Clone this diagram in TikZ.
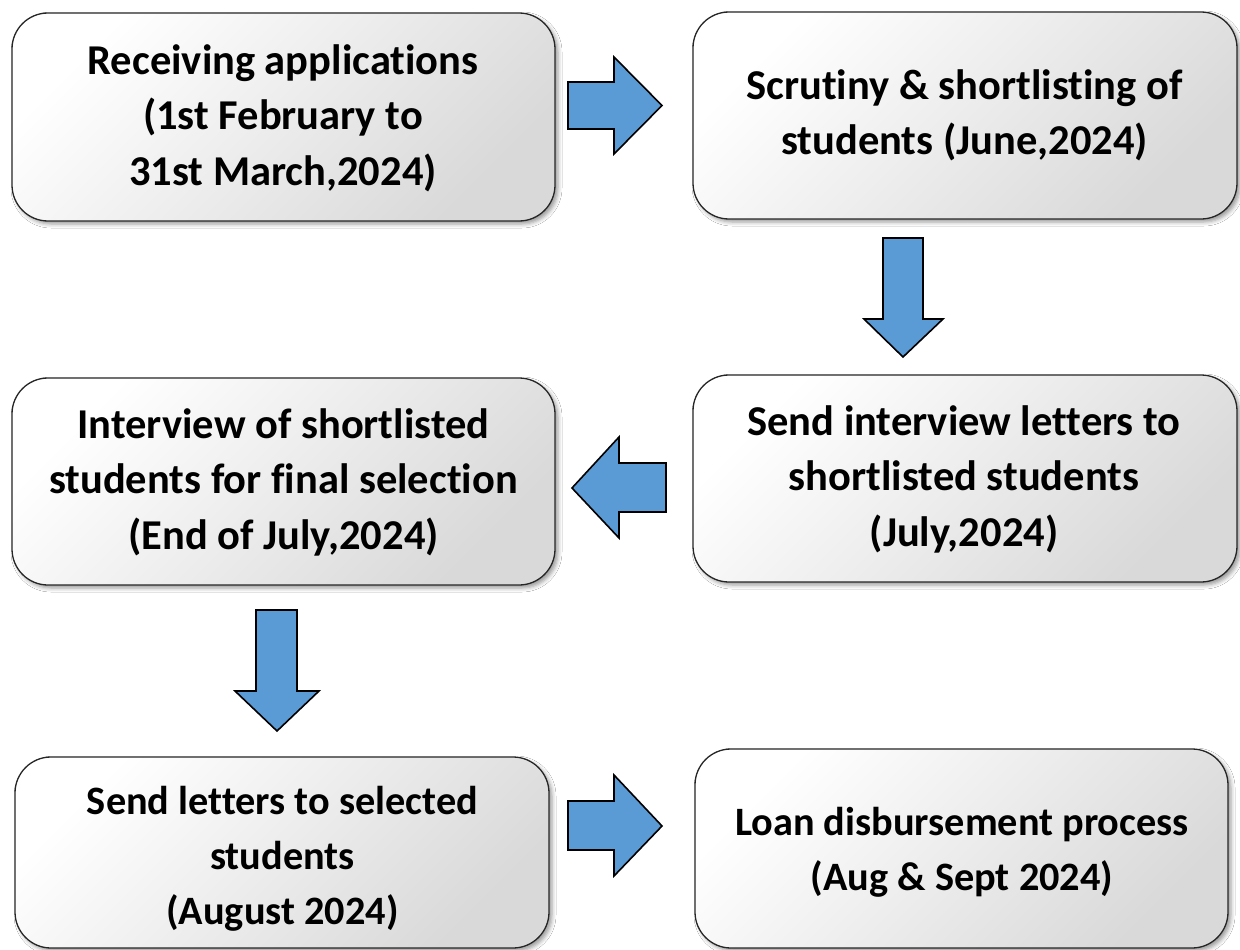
\documentclass[tikz,border=0pt]{standalone}
\usepackage{fontspec}
\setmainfont[Ligatures={NoCommon,NoContextual}]{Carlito}
\usetikzlibrary{shadows.blur}
\definecolor{arrowblue}{HTML}{5B9BD5}
\begin{document}
\begin{tikzpicture}[x=1pt,y=-1pt,
  box/.style={draw=black!85, line width=1.3pt, rounded corners=36pt,
    top color=white, bottom color=black!15, shading angle=45,
    blur shadow={shadow xshift=3pt, shadow yshift=-3pt, shadow blur radius=4pt, shadow opacity=40},
    inner sep=0pt},
  txt/.style={font=\bfseries\fontsize{42.5}{55.5}\selectfont, align=center, inner sep=0pt},
  smalltxt/.style={txt, font=\bfseries\fontsize{40.3}{55}\selectfont},
  barrow/.style={draw=black, line width=1.6pt, fill=arrowblue, line join=miter}]
\useasboundingbox (0,0) rectangle (1240,950);
\fill[white] (0,0) rectangle (1240,950);
% boxes
\node[box, minimum width=543pt, minimum height=208pt] (b1) at (283.5,117) {};
\node[box, minimum width=544pt, minimum height=207pt] (b2) at (965,115.5) {};
\node[box, minimum width=543pt, minimum height=207pt] (b3) at (283.5,481.5) {};
\node[box, minimum width=544pt, minimum height=207pt] (b4) at (965,478.5) {};
\node[box, minimum width=534pt, minimum height=191pt] (b5) at (282,852.5) {};
\node[box, minimum width=533pt, minimum height=199pt] (b6) at (961.5,848.5) {};
% texts
\node[txt] (t1) at (283,118) {Receiving applications\\(1st February to\\31st March,2024)};
\node[txt] (t2) at (964.5,115.5) {Scrutiny \& shortlisting of\\students (June,2024)};
\node[txt] (t3) at (283.5,482) {Interview of shortlisted\\students for final selection\\(End of July,2024)};
\node[txt] (t4) at (964,479) {Send interview letters to\\shortlisted students\\(July,2024)};
\node[smalltxt] (t5) at (282.5,859) {Send letters to selected\\students\\(August 2024)};
\node[smalltxt] (t6) at (962,852) {Loan disbursement process\\(Aug \& Sept 2024)};
% block arrows
\draw[barrow] (568,82) -- (614,82) -- (614,57) -- (662,105.5) -- (614,154) -- (614,129) -- (568,129) -- cycle;
\draw[barrow] (883,238) -- (923,238) -- (923,319) -- (943,319) -- (903,357) -- (864,319) -- (883,319) -- cycle;
\draw[barrow] (666,463) -- (619,463) -- (619,437) -- (572,488) -- (619,538) -- (619,512) -- (666,512) -- cycle;
\draw[barrow] (256,610) -- (297,610) -- (297,691) -- (319,691) -- (277,731) -- (235,691) -- (256,691) -- cycle;
\draw[barrow] (568,801) -- (614,801) -- (614,775) -- (662,826) -- (614,876) -- (614,850) -- (568,850) -- cycle;
\end{tikzpicture}
\end{document}
